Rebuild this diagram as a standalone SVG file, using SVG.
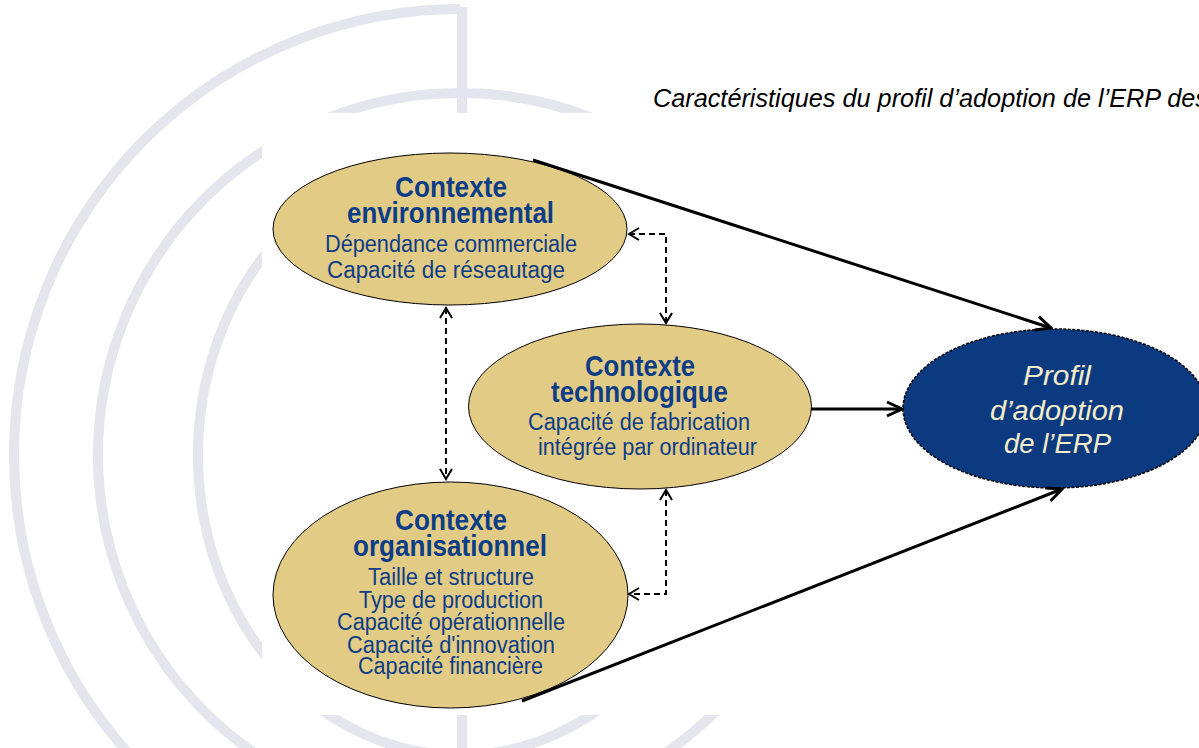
<svg xmlns="http://www.w3.org/2000/svg" width="1199" height="748" viewBox="0 0 1199 748">
  <style>
    .mark { fill: none; stroke: #e5e5ed; stroke-width: 10; }
    .ctx { fill: #e2cb85; stroke: #000; stroke-width: 1; }
    .head { font-family: "Liberation Sans", Arial, sans-serif; font-weight: bold; font-size: 30px; fill: #0d3d87; text-anchor: middle; }
    .item { font-family: "Liberation Sans", Arial, sans-serif; font-size: 23px; fill: #0d3d87; text-anchor: middle; }
    .out { font-family: "Liberation Sans", Arial, sans-serif; font-style: italic; font-size: 28px; fill: #f3ecc8; text-anchor: middle; }
    .title { font-family: "Liberation Sans", Arial, sans-serif; font-style: italic; font-size: 26px; fill: #000; }
    .solid { fill: none; stroke: #000; stroke-width: 3; }
    .dash { fill: none; stroke: #000; stroke-width: 2; stroke-dasharray: 6 4; }
  </style>
  <defs>
    <marker id="headSolid" viewBox="-18 -10 20 20" markerWidth="20" markerHeight="20" refX="0" refY="0" orient="auto" markerUnits="userSpaceOnUse">
      <path d="M-15,-7 L0,0 L-15,7" fill="none" stroke="#000" stroke-width="3"/>
    </marker>
    <marker id="headDash" viewBox="-14 -8 16 16" markerWidth="16" markerHeight="16" refX="0" refY="0" orient="auto-start-reverse" markerUnits="userSpaceOnUse">
      <path d="M-10,-6 L0,0 L-10,6" fill="none" stroke="#000" stroke-width="2"/>
    </marker>
  </defs>

  <rect width="1199" height="748" fill="#fff"/>

  <!-- faint emblem behind the figure -->
  <g id="emblem">
    <path class="mark" d="M460,9 A446,446 0 0 0 14,455 A446,446 0 0 0 460,901"/>
    <circle class="mark" cx="460" cy="455" r="362"/>
    <ellipse class="mark" cx="460" cy="455" rx="262" ry="300"/>
    <line class="mark" x1="462" y1="7" x2="462" y2="748"/>
    <rect x="262" y="113" width="937" height="602" fill="#fff"/>
  </g>

  <text class="title" x="653" y="107" textLength="555" lengthAdjust="spacingAndGlyphs">Caractéristiques du profil d’adoption de l’ERP des</text>

  <g id="ctx-env">
    <ellipse class="ctx" cx="450" cy="229" rx="177" ry="76"/>
    <text class="head" x="451" y="197" textLength="112" lengthAdjust="spacingAndGlyphs">Contexte</text>
    <text class="head" x="450.5" y="223" textLength="207" lengthAdjust="spacingAndGlyphs">environnemental</text>
    <text class="item" x="451" y="252" textLength="252" lengthAdjust="spacingAndGlyphs">Dépendance commerciale</text>
    <text class="item" x="446" y="278" textLength="238" lengthAdjust="spacingAndGlyphs">Capacité de réseautage</text>
  </g>

  <g id="ctx-tech">
    <ellipse class="ctx" cx="640" cy="406.5" rx="171.5" ry="82.5"/>
    <text class="head" x="640" y="376" textLength="110" lengthAdjust="spacingAndGlyphs">Contexte</text>
    <text class="head" x="639.5" y="402" textLength="177" lengthAdjust="spacingAndGlyphs">technologique</text>
    <text class="item" x="639" y="430" textLength="222" lengthAdjust="spacingAndGlyphs">Capacité de fabrication</text>
    <text class="item" x="647.5" y="455" textLength="219" lengthAdjust="spacingAndGlyphs">intégrée par ordinateur</text>
  </g>

  <g id="ctx-org">
    <ellipse class="ctx" cx="450.5" cy="595" rx="177.5" ry="113"/>
    <text class="head" x="451" y="530" textLength="112" lengthAdjust="spacingAndGlyphs">Contexte</text>
    <text class="head" x="450" y="556" textLength="194" lengthAdjust="spacingAndGlyphs">organisationnel</text>
    <text class="item" x="451" y="585" textLength="166" lengthAdjust="spacingAndGlyphs">Taille et structure</text>
    <text class="item" x="451" y="608" textLength="184" lengthAdjust="spacingAndGlyphs">Type de production</text>
    <text class="item" x="451" y="630" textLength="228" lengthAdjust="spacingAndGlyphs">Capacité opérationnelle</text>
    <text class="item" x="451" y="653" textLength="208" lengthAdjust="spacingAndGlyphs">Capacité d'innovation</text>
    <text class="item" x="450.5" y="674" textLength="185" lengthAdjust="spacingAndGlyphs">Capacité financière</text>
  </g>

  <g id="profil-erp">
    <ellipse cx="1055" cy="408.5" rx="152" ry="79.5" fill="#0c3a80" stroke="#000" stroke-width="1.5" stroke-dasharray="3 1.5"/>
    <text class="out" x="1057" y="385" textLength="68" lengthAdjust="spacingAndGlyphs">Profil</text>
    <text class="out" x="1057" y="420" textLength="134" lengthAdjust="spacingAndGlyphs">d’adoption</text>
    <text class="out" x="1057.5" y="453" textLength="107" lengthAdjust="spacingAndGlyphs">de l’ERP</text>
  </g>

  <g id="connectors">
    <path class="solid" d="M533,160 L1051,328" marker-end="url(#headSolid)"/>
    <path class="solid" d="M811,409 L902,409" marker-end="url(#headSolid)"/>
    <path class="solid" d="M522,701 L1062,489" marker-end="url(#headSolid)"/>
    <path class="dash" d="M446,308 V479" marker-start="url(#headDash)" marker-end="url(#headDash)"/>
    <path class="dash" d="M629,234 H666 V323" marker-start="url(#headDash)" marker-end="url(#headDash)"/>
    <path class="dash" d="M666,490 V594 H629" marker-start="url(#headDash)" marker-end="url(#headDash)"/>
  </g>
</svg>
